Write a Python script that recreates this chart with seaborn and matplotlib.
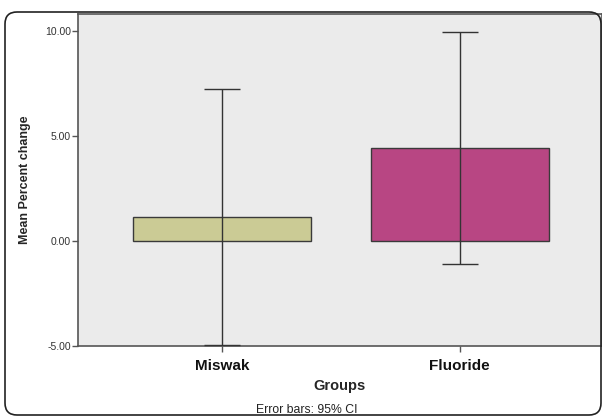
import pandas as pd
import seaborn as sns
import matplotlib.pyplot as plt
from matplotlib.patches import FancyBboxPatch
from matplotlib.transforms import IdentityTransform

# ---------------------------------------------------------------------
# Data
# ---------------------------------------------------------------------
groups = ["Miswak", "Fluoride"]
mean_change = [1.15, 4.43]
ci_low = [-4.95, -1.11]
ci_high = [7.25, 9.95]
bar_colors = ["#CBCB95", "#B84683"]

df = pd.DataFrame({"Groups": groups, "Mean": mean_change})

sns.set_style("white")
plt.rcParams["font.family"] = ["Liberation Sans", "DejaVu Sans"]

fig = plt.figure(figsize=(6.02, 4.19), dpi=100)
ax = fig.add_axes([78 / 602, 73 / 419, 1 - 78 / 602, (346 - 14) / 419])
ax.set_facecolor("#EBEBEB")

# Bars
sns.barplot(
    data=df, x="Groups", y="Mean", hue="Groups", palette=bar_colors,
    order=groups, errorbar=None, width=0.75, legend=False, saturation=1,
    edgecolor="#3A3A3A", linewidth=1.0, ax=ax, zorder=2
)

# 95% CI error bars
lower = [m - lo for m, lo in zip(mean_change, ci_low)]
upper = [hi - m for m, hi in zip(mean_change, ci_high)]
ax.errorbar(
    x=range(len(groups)), y=mean_change, yerr=[lower, upper],
    fmt="none", ecolor="#333333", elinewidth=1.0, capsize=13,
    capthick=1.0, zorder=3
)

# Axes styling
ax.set_xlim(-0.608, 1.6)
ax.set_ylim(-5, 10.81)
ax.set_yticks([-5, 0, 5, 10])
ax.set_yticklabels(["-5.00", "0.00", "5.00", "10.00"], fontsize=7.5, color="#333333")
ax.set_xticks(range(len(groups)))
ax.set_xticklabels(groups, fontsize=11, fontweight="bold", color="#111111")
ax.tick_params(axis="both", direction="out", length=4, width=1, color="#555555",
               left=True, bottom=True)
ax.tick_params(axis="x", pad=5)
ax.tick_params(axis="y", pad=1)
for side in ["left", "bottom", "top", "right"]:
    ax.spines[side].set_color("#555555")
    ax.spines[side].set_linewidth(1.2)

ax.set_xlabel("Groups", fontsize=10.5, fontweight="bold", labelpad=5)
ax.set_ylabel("Mean Percent change", fontsize=9, fontweight="bold", labelpad=10)
ax.grid(False)

# Footnote
fig.text(307 / 602, 1 - 410 / 419, "Error bars: 95% CI", fontsize=8.8,
         color="#222222", ha="center", va="center")

# Rounded outer frame
frame = FancyBboxPatch(
    (5, 4), 596, 403, boxstyle="round,pad=0,rounding_size=12",
    transform=IdentityTransform(), facecolor="none",
    edgecolor="#222222", linewidth=1.2, zorder=10
)
fig.patches.append(frame)

fig.savefig("out.png", dpi=100)
